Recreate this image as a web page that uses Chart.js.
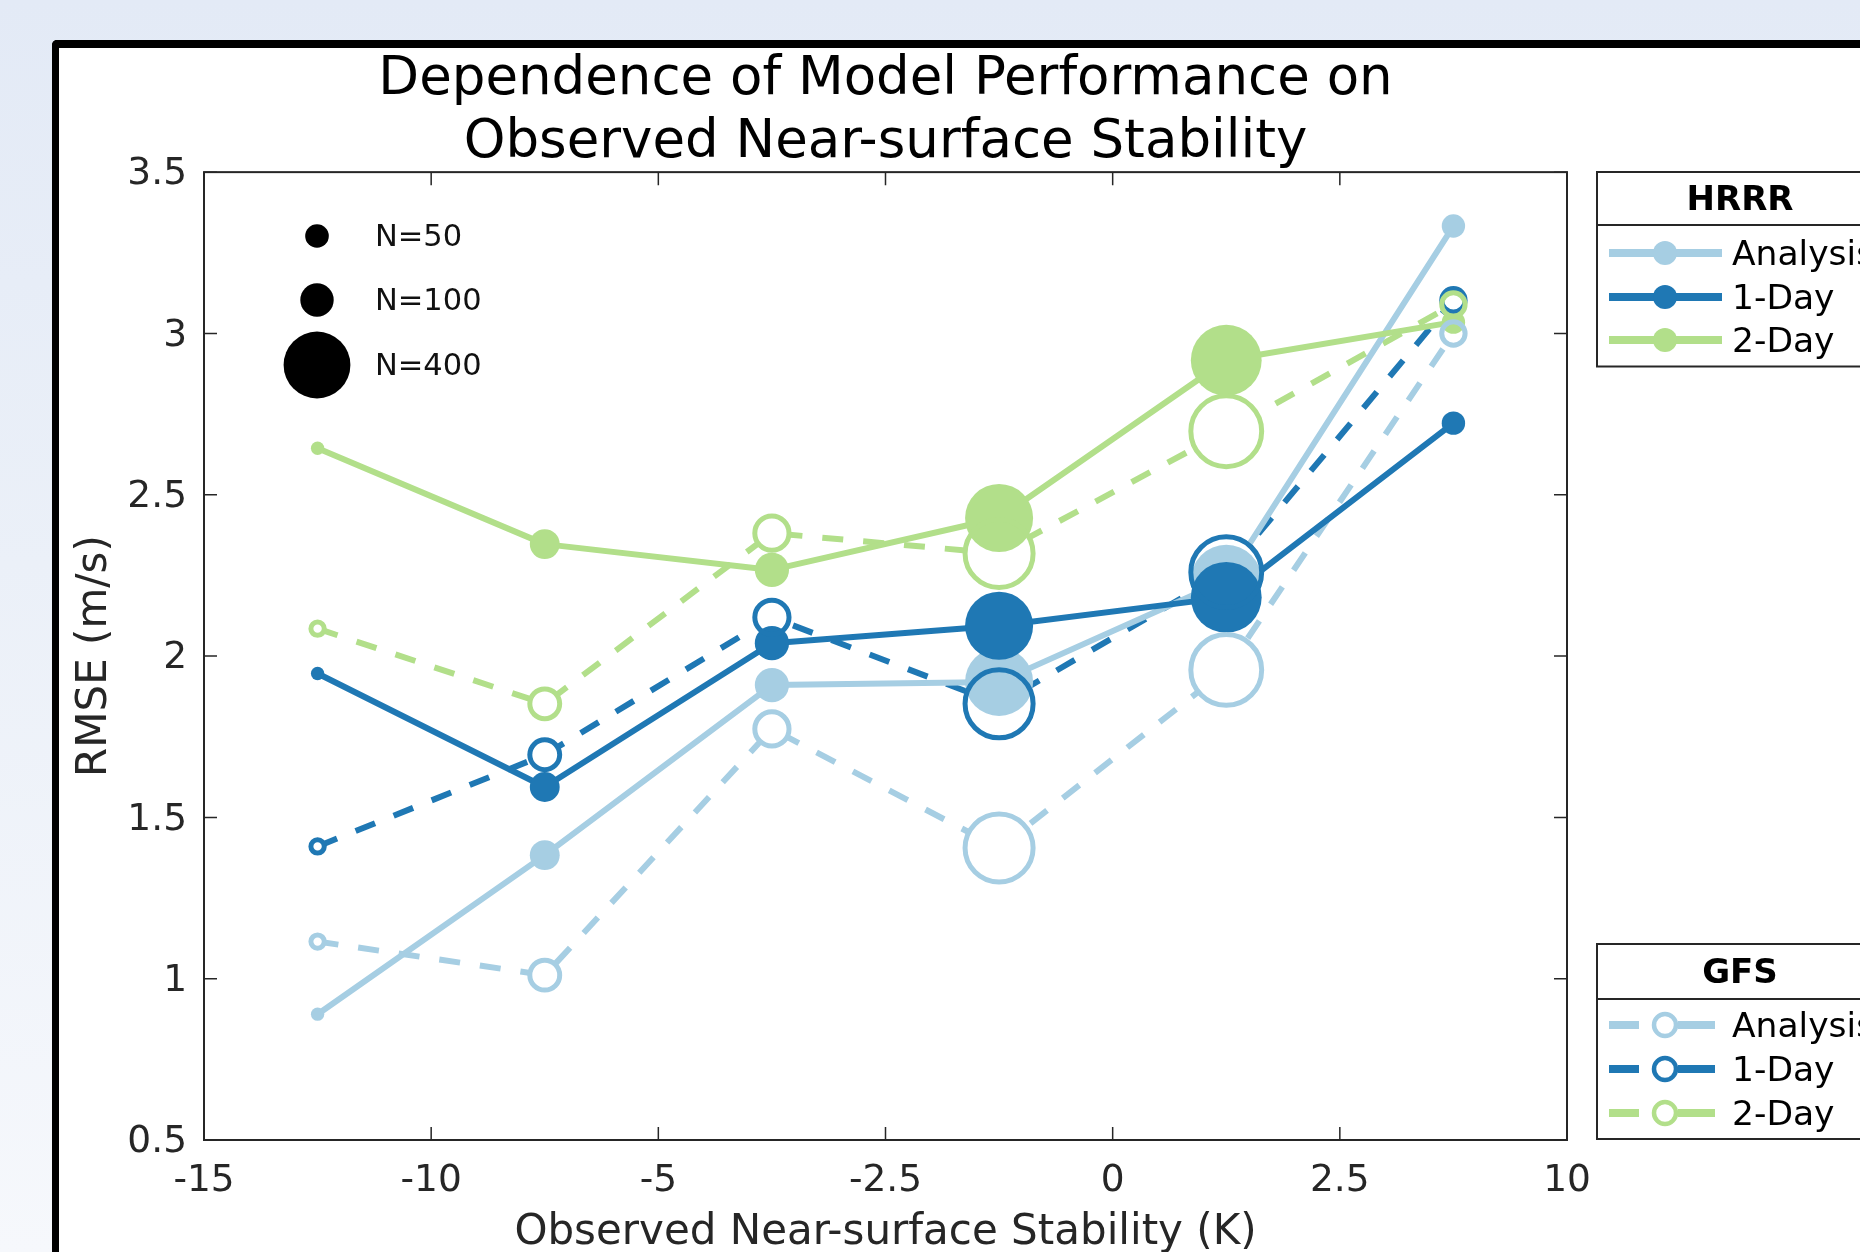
<!DOCTYPE html>
<html>
<head>
<meta charset="utf-8">
<script src="https://cdn.jsdelivr.net/npm/chart.js@4.4.1/dist/chart.umd.min.js"></script>
<style>
  html, body { margin: 0; padding: 0; }
  body {
    width: 1860px; height: 1252px; overflow: hidden; position: relative;
    background: linear-gradient(180deg, #e3eaf6 0%, #ebf0f8 45%, #f6f8fc 100%);
  }
  #frame {
    position: absolute; left: 52px; top: 40px; width: 1900px; height: 1300px;
    background: #fff; border-left: 7px solid #000; border-top: 8px solid #000;
    border-top-left-radius: 5px;
  }
  #chart { position: absolute; left: 0; top: 0; }
</style>
</head>
<body>
<div id="frame"></div>
<canvas id="chart" width="1860" height="1252"></canvas>
<script>
// bins of observed stability (K); points sit in the middle of each bin
const xTickLabels = ['-15', '-10', '-5', '-2.5', '0', '2.5', '10'];
const yTickValues = [0.5, 1, 1.5, 2, 2.5, 3, 3.5];
const yTickLabels = ['0.5', '1', '1.5', '2', '2.5', '3', '3.5'];

// number of samples per bin (marker area)
const sampleCount = [16, 80, 105, 415, 450, 49];

// RMSE (m/s)
const hrrrAnalysis = [0.89, 1.383, 1.91, 1.92, 2.235, 3.333];
const hrrrDay1     = [1.946, 1.594, 2.04, 2.094, 2.182, 2.722];
const hrrrDay2     = [2.644, 2.347, 2.267, 2.428, 2.917, 3.035];
const gfsAnalysis  = [1.115, 1.011, 1.774, 1.405, 1.957, 3.0];
const gfsDay1      = [1.41, 1.694, 2.12, 1.852, 2.26, 3.103];
const gfsDay2      = [2.085, 1.852, 2.381, 2.318, 2.697, 3.09];

const leadNames = ['Analysis', '1-Day', '2-Day'];
const sizeLegendN = [50, 100, 400];

const FONT = "'DejaVu Sans', sans-serif";
const AXIS = '#262626';
const leadColors = ['#a6cee3', '#1f78b4', '#b2df8a'];
const TICK = 13;

const hrrr = [hrrrAnalysis, hrrrDay1, hrrrDay2];
const gfs = [gfsAnalysis, gfsDay1, gfsDay2];

function markerRadius(n) { return 1.67 * Math.sqrt(n); }
function pts(vals) { return vals.map((v, i) => ({ x: i + 0.5, y: v })); }
const rad = ctx => markerRadius(sampleCount[ctx.dataIndex]);

// datasets listed back to front
const datasets = [];
gfs.forEach((v, k) => datasets.push({
  label: 'GFS ' + leadNames[k], data: pts(v), showLine: true,
  borderColor: leadColors[k], borderWidth: 6, borderDash: [21, 20],
  borderJoinStyle: 'round', pointRadius: 0
}));
hrrr.forEach((v, k) => datasets.push({
  label: 'HRRR ' + leadNames[k], data: pts(v), showLine: true,
  borderColor: leadColors[k], borderWidth: 6,
  borderJoinStyle: 'round', pointRadius: 0
}));
// white inside of the open GFS markers
gfs.forEach((v, k) => datasets.push({
  data: pts(v), showLine: false, pointRadius: rad,
  pointBackgroundColor: '#fff', pointBorderWidth: 0
}));
// filled HRRR markers
hrrr.forEach((v, k) => datasets.push({
  data: pts(v), showLine: false, pointRadius: rad,
  pointBackgroundColor: leadColors[k], pointBorderColor: leadColors[k], pointBorderWidth: 0
}));
// open GFS rings
gfs.forEach((v, k) => datasets.push({
  data: pts(v), showLine: false, pointRadius: rad,
  pointBackgroundColor: 'rgba(0,0,0,0)', pointBorderColor: leadColors[k], pointBorderWidth: 5
}));
datasets.forEach((d, k) => { d.order = datasets.length - k; });

function drawModelLegend(ctx, title, top, sepY, bottom, rows, dashed) {
  const left = 1597, right = 1905;
  ctx.fillStyle = '#fff';
  ctx.fillRect(left, top, right - left, bottom - top);
  ctx.strokeStyle = AXIS;
  ctx.lineWidth = 2;
  ctx.strokeRect(left, top, right - left, bottom - top);
  ctx.beginPath();
  ctx.moveTo(left, sepY);
  ctx.lineTo(right, sepY);
  ctx.stroke();

  ctx.fillStyle = '#000';
  ctx.font = 'bold 34px ' + FONT;
  ctx.textAlign = 'center';
  ctx.textBaseline = 'middle';
  ctx.fillText(title, 1740, (top + sepY) / 2 + 3);

  rows.forEach((yy, k) => {
    const c = leadColors[k];
    ctx.strokeStyle = c;
    ctx.lineWidth = 8;
    ctx.beginPath();
    if (dashed) {
      ctx.moveTo(1609, yy); ctx.lineTo(1639, yy);
      ctx.moveTo(1678, yy); ctx.lineTo(1715, yy);
    } else {
      ctx.moveTo(1609, yy); ctx.lineTo(1722, yy);
    }
    ctx.stroke();
    ctx.beginPath();
    ctx.arc(1665, yy, dashed ? 11 : 12, 0, Math.PI * 2);
    if (dashed) {
      ctx.fillStyle = '#fff';
      ctx.fill();
      ctx.lineWidth = 4.5;
      ctx.stroke();
    } else {
      ctx.fillStyle = c;
      ctx.fill();
    }
    ctx.fillStyle = '#000';
    ctx.font = '34.5px ' + FONT;
    ctx.textAlign = 'left';
    ctx.fillText(leadNames[k], 1732, yy + 3);
  });
}

const decor = {
  id: 'decor',
  beforeDatasetsDraw(chart) {
    const { ctx, chartArea: a, scales: { x, y } } = chart;
    ctx.save();
    ctx.strokeStyle = AXIS;
    ctx.lineWidth = 2;
    ctx.strokeRect(a.left, a.top, a.right - a.left, a.bottom - a.top);
    ctx.lineWidth = 1.5;
    ctx.beginPath();
    x.ticks.forEach(t => {
      const px = x.getPixelForValue(t.value);
      ctx.moveTo(px, a.bottom); ctx.lineTo(px, a.bottom - TICK);
      ctx.moveTo(px, a.top); ctx.lineTo(px, a.top + TICK);
    });
    y.ticks.forEach(t => {
      const py = y.getPixelForValue(t.value);
      ctx.moveTo(a.left, py); ctx.lineTo(a.left + TICK, py);
      ctx.moveTo(a.right, py); ctx.lineTo(a.right - TICK, py);
    });
    ctx.stroke();
    ctx.restore();
  },
  afterDraw(chart) {
    const ctx = chart.ctx;
    ctx.save();
    // marker size key
    const keyY = [236, 300, 365];
    sizeLegendN.forEach((n, k) => {
      ctx.beginPath();
      ctx.arc(317, keyY[k], markerRadius(n), 0, Math.PI * 2);
      ctx.fillStyle = '#000';
      ctx.fill();
      ctx.font = '30.5px ' + FONT;
      ctx.textAlign = 'left';
      ctx.textBaseline = 'middle';
      ctx.fillStyle = '#111';
      ctx.fillText('N=' + n, 375, keyY[k] + 2.5);
    });
    drawModelLegend(ctx, 'HRRR', 172, 225, 366.5, [253, 297, 340], false);
    drawModelLegend(ctx, 'GFS', 944, 999, 1139, [1025, 1069, 1113], true);
    ctx.restore();
  }
};

new Chart(document.getElementById('chart'), {
  type: 'scatter',
  data: { datasets },
  plugins: [decor],
  options: {
    responsive: false,
    animation: false,
    events: [],
    layout: { padding: { left: 0, top: 0, right: 293, bottom: 0 } },
    plugins: {
      legend: { display: false },
      tooltip: { enabled: false },
      title: {
        display: true,
        fullSize: false,
        text: ['Dependence of Model Performance on', 'Observed Near-surface Stability'],
        color: '#000',
        font: { family: FONT, size: 53, weight: 'normal', lineHeight: 1.19 },
        padding: { top: 49, bottom: -3 }
      }
    },
    scales: {
      x: {
        type: 'linear', min: 0, max: 6,
        afterBuildTicks: s => { s.ticks = xTickLabels.map((_, i) => ({ value: i })); },
        afterFit: s => { s.height = 112; },
        grid: { display: false, drawTicks: false },
        border: { display: false },
        ticks: {
          autoSkip: false, maxRotation: 0, padding: 19, color: AXIS,
          font: { family: FONT, size: 37.5 },
          callback: (v, i) => xTickLabels[i]
        },
        title: {
          display: true, text: 'Observed Near-surface Stability (K)', color: AXIS,
          font: { family: FONT, size: 42, lineHeight: 0.9 },
          padding: { top: 0, bottom: 0.5 }
        }
      },
      y: {
        type: 'linear', min: 0.5, max: 3.5,
        afterBuildTicks: s => { s.ticks = yTickValues.map(v => ({ value: v })); },
        afterFit: s => { s.width = 204; },
        grid: { display: false, drawTicks: false },
        border: { display: false },
        ticks: {
          autoSkip: false, padding: 17, labelOffset: 2.5, color: AXIS,
          font: { family: FONT, size: 37.5 },
          callback: (v, i) => yTickLabels[i]
        },
        title: {
          display: true, text: 'RMSE (m/s)', color: AXIS,
          font: { family: FONT, size: 42, lineHeight: 1.2 },
          padding: { top: 70, bottom: 0 }
        }
      }
    }
  }
});
</script>
</body>
</html>
